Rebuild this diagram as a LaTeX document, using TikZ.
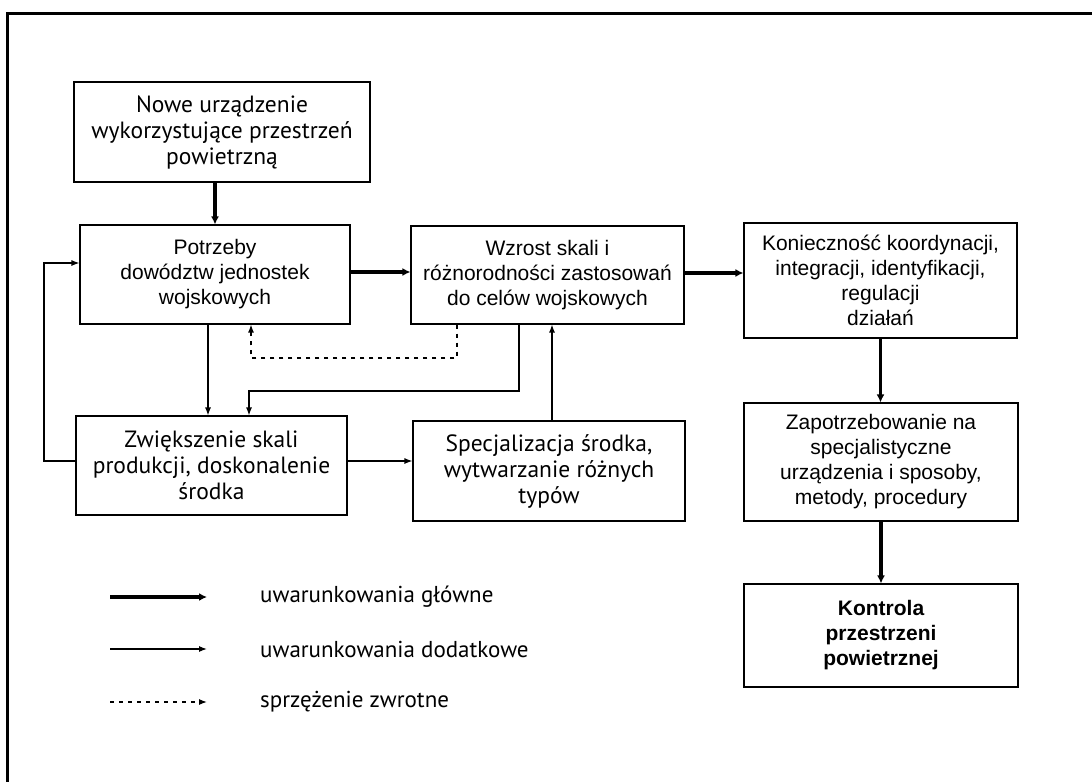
\documentclass[tikz,border=0pt]{standalone}
\usepackage{fontspec}
\setmainfont{Liberation Sans}
\newfontfamily\hfont{PT Sans}
\usetikzlibrary{arrows.meta,calc}
\begin{document}
\begin{tikzpicture}[x=1pt,y=-1pt,
  box/.style={draw, line width=1.1pt, align=center, inner sep=0pt,
    font=\fontsize{21}{25}\selectfont},
  hbox/.style={box, font=\hfont\fontsize{23.5}{26}\selectfont},
  mainarrow/.style={line width=3.2pt, -{Latex[length=8pt,width=8pt]}},
  subarrow/.style={line width=1.2pt, -{Latex[length=8pt,width=6pt]}},
  fbarrow/.style={line width=1.2pt, dash pattern=on 4pt off 5pt, -{Latex[length=8pt,width=6pt]}},
  legtext/.style={anchor=west, inner sep=0pt, font=\hfont\fontsize{23}{26}\selectfont}]
\useasboundingbox (0,0) rectangle (1092,782);
\fill[white] (0,0) rectangle (1092,782);
% frame
\draw[line width=3pt] (1092,13) -- (7,13) -- (7,782);

% boxes
\node[hbox, minimum width=296, minimum height=100] (b1) at (222,132)
  {Nowe urządzenie\\wykorzystujące przestrzeń\\powietrzną};
\node[box, minimum width=270, minimum height=99] (b2) at (215,274.5)
  {Potrzeby\\dowództw jednostek\\wojskowych};
\node[box, minimum width=273, minimum height=98] (b3) at (547.5,275)
  {Wzrost skali i\\różnorodności zastosowań\\do celów wojskowych};
\node[box, minimum width=273, minimum height=115] (b4) at (880.5,280.5)
  {Konieczność koordynacji,\\integracji, identyfikacji,\\regulacji\\działań};
\node[box, minimum width=274, minimum height=118] (b5) at (881,462)
  {Zapotrzebowanie na\\specjalistyczne\\urządzenia i sposoby,\\metody, procedury};
\node[box, minimum width=274, minimum height=103, font=\bfseries\fontsize{21}{25}\selectfont] (b6) at (881,635.5)
  {Kontrola\\przestrzeni\\powietrznej};
\node[hbox, minimum width=271, minimum height=99] (b7) at (211.5,465.5)
  {Zwiększenie skali\\produkcji, doskonalenie\\środka};
\node[hbox, minimum width=272, minimum height=100] (b8) at (549,471)
  {Specjalizacja środka,\\wytwarzanie różnych\\typów};

% main connectors
\draw[mainarrow] (b2.north |- b1.south) -- (b2.north);
\draw[mainarrow] (b2.east |- 0,272) -- (b3.west |- 0,272);
\draw[mainarrow] (b3.east |- 0,273) -- (b4.west |- 0,273);
\draw[mainarrow] (b4.south) -- (b4.south |- b5.north);
\draw[mainarrow] (b5.south) -- (b5.south |- b6.north);

% additional connectors
\coordinate (p1) at (208,0);
\draw[subarrow] (b2.south -| p1) -- (b7.north -| p1);
\coordinate (q1) at (519,391);
\coordinate (q2) at (249,391);
\draw[subarrow] (b3.south -| q1) -- (q1) -- (q2) -- (b7.north -| q2);
\coordinate (r1) at (552,0);
\draw[subarrow] (b8.north -| r1) -- (b3.south -| r1);
\coordinate (s1) at (0,461);
\draw[subarrow] (b7.east |- s1) -- (b8.west |- s1);
\coordinate (t1) at (44,461);
\coordinate (t2) at (44,263);
\draw[subarrow] (b7.west |- t1) -- (t1) -- (t2) -- (b2.west |- t2);

% feedback
\coordinate (f1) at (457,358);
\coordinate (f2) at (251,358);
\draw[fbarrow] (b3.south -| f1) -- (f1) -- (f2) -- (b2.south -| f2);

% legend
\coordinate (l1a) at (110,597); \coordinate (l1b) at (207,597);
\coordinate (l2a) at (110,649); \coordinate (l2b) at (207,649);
\coordinate (l3a) at (110,702); \coordinate (l3b) at (207,702);
\draw[mainarrow] (l1a) -- (l1b);
\draw[subarrow] (l2a) -- (l2b);
\draw[fbarrow] (l3a) -- (l3b);
\node[legtext] (lt1) at (260,597) {uwarunkowania główne};
\node[legtext] (lt2) at (260,649) {uwarunkowania dodatkowe};
\node[legtext] (lt3) at (260,702) {sprzężenie zwrotne};
\end{tikzpicture}
\end{document}
